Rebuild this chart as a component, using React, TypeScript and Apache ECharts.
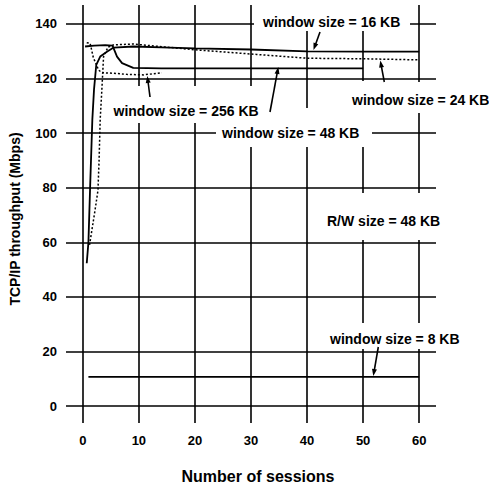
import React, { useEffect, useRef } from "react";
import * as echarts from "echarts";

// ---- axis ticks ----
const xTicks = [0, 10, 20, 30, 40, 50, 60];
const yTicks = [0, 20, 40, 60, 80, 100, 120, 140];

// ---- series data (number of sessions, throughput Mbps) ----
const sessions8 = [1, 10, 20, 30, 40, 50, 60];
const tput8 = [10.7, 10.7, 10.7, 10.7, 10.7, 10.7, 10.7];

const sessions16 = [0.7, 1.0, 1.3, 1.7, 2.0, 2.4, 3.1, 4.3, 5.5, 9, 14, 20, 30, 40, 50, 60];
const tput16 = [52.3, 60, 80, 105, 116, 125, 128, 129.8, 131.3, 131.7, 131.4, 131.0, 130.6, 129.9, 129.8, 129.8];

const sessions24 = [1.2, 2.2, 2.7, 2.9, 3.1, 3.4, 3.7, 4.5, 5.5, 9, 20, 31, 40, 50, 60];
const tput24 = [59, 72, 79, 90, 105, 116, 128, 131.5, 132.3, 132.6, 130.5, 128.8, 127.4, 127.2, 126.8];

const sessions48 = [0.4, 2, 4, 5.3, 6.1, 7.0, 9, 14, 20, 30, 40, 50];
const tput48 = [131.7, 132, 132.2, 132, 128, 125.6, 123.9, 123.7, 123.7, 123.7, 123.7, 123.7];

const sessions256 = [0.7, 1.3, 1.9, 2.2, 2.8, 3.4, 5.5, 7.8, 10.8, 14.1];
const tput256 = [133.1, 132.9, 127.4, 126.2, 123.1, 122.1, 121.9, 121.5, 121.3, 122.1];

// ---- texts ----
const xName = "Number of sessions";
const yName = "TCP/IP throughput (Mbps)";
const annotations = [
  { text: "window size = 16 KB", x: 263, y: 21.5 },
  { text: "window size = 24 KB", x: 352, y: 100 },
  { text: "window size = 48 KB", x: 222, y: 133 },
  { text: "window size = 256 KB", x: 113.5, y: 110.7 },
  { text: "R/W size = 48 KB", x: 327, y: 221 },
  { text: "window size = 8 KB", x: 330, y: 339 },
];
const arrows = [
  [320, 32, 313.5, 50],
  [384.3, 82, 380.3, 60.5],
  [270, 112, 278.3, 67],
  [150, 97, 147.3, 76],
  [378.3, 347, 373.3, 376],
];
const gaps = [
  [254, 0, 156, 31],
  [106, 86, 156, 37],
  [246, 86, 10, 61],
  [216, 108, 156, 39],
  [356, 81, 10, 66],
  [345, 82, 144, 31],
  [322, 193, 120, 47],
  [325, 323, 140, 26],
];

const FONT = '"Liberation Sans", Arial, Helvetica, sans-serif';

function zip(xs: number[], ys: number[]) {
  return xs.map((x, i) => [x, ys[i]]);
}

function arrowEls(a: number[]) {
  const [x1, y1, x2, y2] = a;
  const dx = x2 - x1, dy = y2 - y1;
  const len = Math.sqrt(dx * dx + dy * dy);
  const ux = dx / len, uy = dy / len;
  const nx = -uy, ny = ux;
  const L = 7, W = 5;
  const bx = x2 - ux * L, by = y2 - uy * L;
  return [
    {
      type: "line",
      z: 101,
      silent: true,
      shape: { x1, y1, x2: x2 - ux * L * 0.5, y2: y2 - uy * L * 0.5 },
      style: { stroke: "#000", lineWidth: 1.6 },
    },
    {
      type: "polygon",
      z: 101,
      silent: true,
      shape: {
        points: [
          [x2, y2],
          [bx + (nx * W) / 2, by + (ny * W) / 2],
          [bx - (nx * W) / 2, by - (ny * W) / 2],
        ],
      },
      style: { fill: "#000" },
    },
  ];
}

function textEl(text: string, x: number, y: number, size: number, align: string, rotation = 0) {
  return {
    type: "text",
    z: 102,
    silent: true,
    x,
    y,
    rotation,
    style: {
      text,
      fill: "#000",
      font: `bold ${size}px ${FONT}`,
      textAlign: align,
      textVerticalAlign: "middle",
      align,
      verticalAlign: "middle",
    },
  };
}

export default function App() {
  const ref = useRef<HTMLDivElement>(null);
  useEffect(() => {
    if (!ref.current) return;
    const chart = echarts.init(ref.current, null, { renderer: "svg" });
    const lineBase = {
      type: "line",
      showSymbol: false,
      symbol: "none",
      silent: true,
      z: 3,
    };
    const graphic: any[] = [];
    gaps.forEach((g) =>
      graphic.push({
        type: "rect",
        z: 100,
        silent: true,
        shape: { x: g[0], y: g[1], width: g[2], height: g[3] },
        style: { fill: "#fff" },
      })
    );
    annotations.forEach((a) => graphic.push(textEl(a.text, a.x, a.y, 14, "left")));
    arrows.forEach((a) => graphic.push(...arrowEls(a)));
    graphic.push(textEl(xName, 258, 476, 16, "center"));
    graphic.push(textEl(yName, 15, 219, 14, "center", Math.PI / 2));

    const labelStyle = {
      fontFamily: FONT,
      fontWeight: "bold",
      fontSize: 13,
      color: "#000",
    };

    chart.setOption({
      animation: false,
      backgroundColor: "#fff",
      grid: { left: 66, top: 5, width: 370, height: 418 },
      xAxis: {
        type: "value",
        min: -3,
        max: 63,
        axisLine: { show: false },
        axisTick: { show: false },
        splitLine: { show: false },
        axisLabel: { ...labelStyle, customValues: xTicks, margin: 11 },
      },
      yAxis: {
        type: "value",
        min: -6.2,
        max: 146.9,
        axisLine: { show: false },
        axisTick: { show: false },
        splitLine: { show: false },
        axisLabel: { ...labelStyle, customValues: yTicks, margin: 9 },
      },
      series: [
        {
          ...lineBase,
          name: "window size = 8 KB",
          data: zip(sessions8, tput8),
          lineStyle: { color: "#000", width: 1.8 },
          markLine: {
            silent: true,
            symbol: ["none", "none"],
            label: { show: false },
            emphasis: { disabled: true },
            lineStyle: { color: "#000", type: "solid", width: 1.6 },
            data: [
              ...xTicks.map((v) => ({ xAxis: v })),
              ...yTicks.map((v) => ({ yAxis: v })),
            ],
          },
        },
        {
          ...lineBase,
          name: "window size = 16 KB",
          data: zip(sessions16, tput16),
          lineStyle: { color: "#000", width: 1.8 },
        },
        {
          ...lineBase,
          name: "window size = 24 KB",
          data: zip(sessions24, tput24),
          lineStyle: { color: "#000", width: 1.5, type: [2, 2] },
        },
        {
          ...lineBase,
          name: "window size = 48 KB",
          data: zip(sessions48, tput48),
          lineStyle: { color: "#000", width: 1.8 },
        },
        {
          ...lineBase,
          name: "window size = 256 KB",
          data: zip(sessions256, tput256),
          lineStyle: { color: "#000", width: 1.5, type: [2, 2] },
        },
      ],
      graphic: { elements: graphic },
    });
    return () => chart.dispose();
  }, []);
  return (
    <div
      ref={ref}
      style={{
        position: "fixed",
        left: 0,
        top: 0,
        width: 489,
        height: 484,
        background: "#fff",
      }}
    />
  );
}
